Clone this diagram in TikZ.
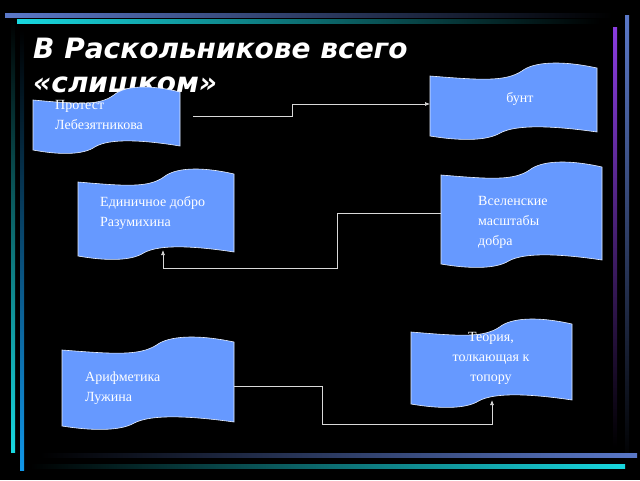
\documentclass[tikz,border=0pt]{standalone}
\usepackage{fontspec}
\usetikzlibrary{arrows.meta}
\setmainfont{Liberation Serif}
\newfontfamily\titlefont{DejaVu Sans}
\definecolor{wfill}{HTML}{6699FF}
\definecolor{bbar}{HTML}{5A78C8}
\definecolor{cbar}{HTML}{18D8E0}
\definecolor{pbar}{HTML}{8A3CE0}
\newcommand\wavebox[5]{% x0 y0(top) x1 y1(bottom) name
  \path[wave] (#1,#2+14) .. controls ({#1+0.3*(#3-#1)},#2+18) and ({#1+0.45*(#3-#1)},#2+20) .. ({#1+0.55*(#3-#1)},#2+9)
    .. controls ({#1+0.62*(#3-#1)},#2) and ({#1+0.78*(#3-#1)},#2-2) .. (#3,#2+6)
    -- (#3,#4-6) .. controls ({#1+0.75*(#3-#1)},#4-12) and ({#1+0.52*(#3-#1)},#4-14) .. ({#1+0.42*(#3-#1)},#4-5)
    .. controls ({#1+0.34*(#3-#1)},#4+3) and ({#1+0.18*(#3-#1)},#4+3) .. (#1,#4-2) -- cycle;
  \coordinate (#5) at ({(#1+#3)/2},{(#2+#4)/2});}
\begin{document}
\begin{tikzpicture}[x=1pt,y=-1pt,
  wave/.style={fill=wfill,draw=white!85!wfill,line width=0.6pt},
  lbl/.style={text=white,font=\fontsize{14}{20}\selectfont,align=left,inner sep=0pt},
  conn/.style={draw=white!85!black,line width=0.7pt,-{Latex[length=5pt,width=4pt]}}]
\useasboundingbox[fill=black] (0,0) rectangle (640,480);
% frame bars
\shade[left color=bbar,right color=black] (5,13) rectangle (612,17);
\shade[left color=cbar,right color=black] (17,19) rectangle (600,23);
\shade[top color=black,bottom color=cbar] (11,20) rectangle (15,452);
\shade[top color=black,bottom color=cbar!70!blue] (20,30) rectangle (24,470);
\shade[top color=bbar,bottom color=black] (625,15) rectangle (629,462);
\shade[top color=pbar,bottom color=black] (613,27) rectangle (617,447);
\shade[left color=black,right color=bbar] (40,453) rectangle (637,457);
\shade[left color=black,right color=cbar] (30,464) rectangle (625,468);
% title
\node[anchor=base west,text=white,inner sep=0pt,font=\titlefont\bfseries\itshape\fontsize{28}{32}\selectfont] (t1) at (33,58) {В Раскольникове всего};
\node[anchor=base west,text=white,inner sep=0pt,font=\titlefont\bfseries\itshape\fontsize{28}{32}\selectfont] (t2) at (33,92) {«слишком»};
% shapes
\wavebox{33}{86}{180}{152}{s1}
\wavebox{430}{62}{597}{138}{s2}
\wavebox{78}{168}{234}{258}{s3}
\wavebox{441}{161}{602}{266}{s4}
\wavebox{411}{318}{572}{406}{s5}
\wavebox{62}{336}{234}{428}{s6}
% labels
\node[lbl,anchor=north west] (l1) at (55,100) {Протест\\Лебезятникова};
\node[lbl,anchor=north] (l2) at (520,92) {бунт};
\node[lbl,anchor=north west] (l3) at (100,196) {Единичное добро\\Разумихина};
\node[lbl,anchor=north west] (l4) at (478,196) {Вселенские\\масштабы\\добра};
\node[lbl,anchor=north,align=center] (l5) at (491,332) {Теория,\\толкающая к\\топору};
\node[lbl,anchor=north west] (l6) at (85,372) {Арифметика\\Лужина};
% connector endpoints
\coordinate (a1) at (193,116); \coordinate (b1) at (430,104);
\coordinate (a2) at (441,213); \coordinate (b2) at (163,250);
\coordinate (a3) at (234,386); \coordinate (b3) at (492,400);
\draw[conn] (a1) -- (292,116) -- (292,104) -- (b1);
\draw[conn] (a2) -- (337,213) -- (337,268) -- (163,268) -- (b2);
\draw[conn] (a3) -- (322,386) -- (322,424) -- (492,424) -- (b3);
\end{tikzpicture}
\end{document}
